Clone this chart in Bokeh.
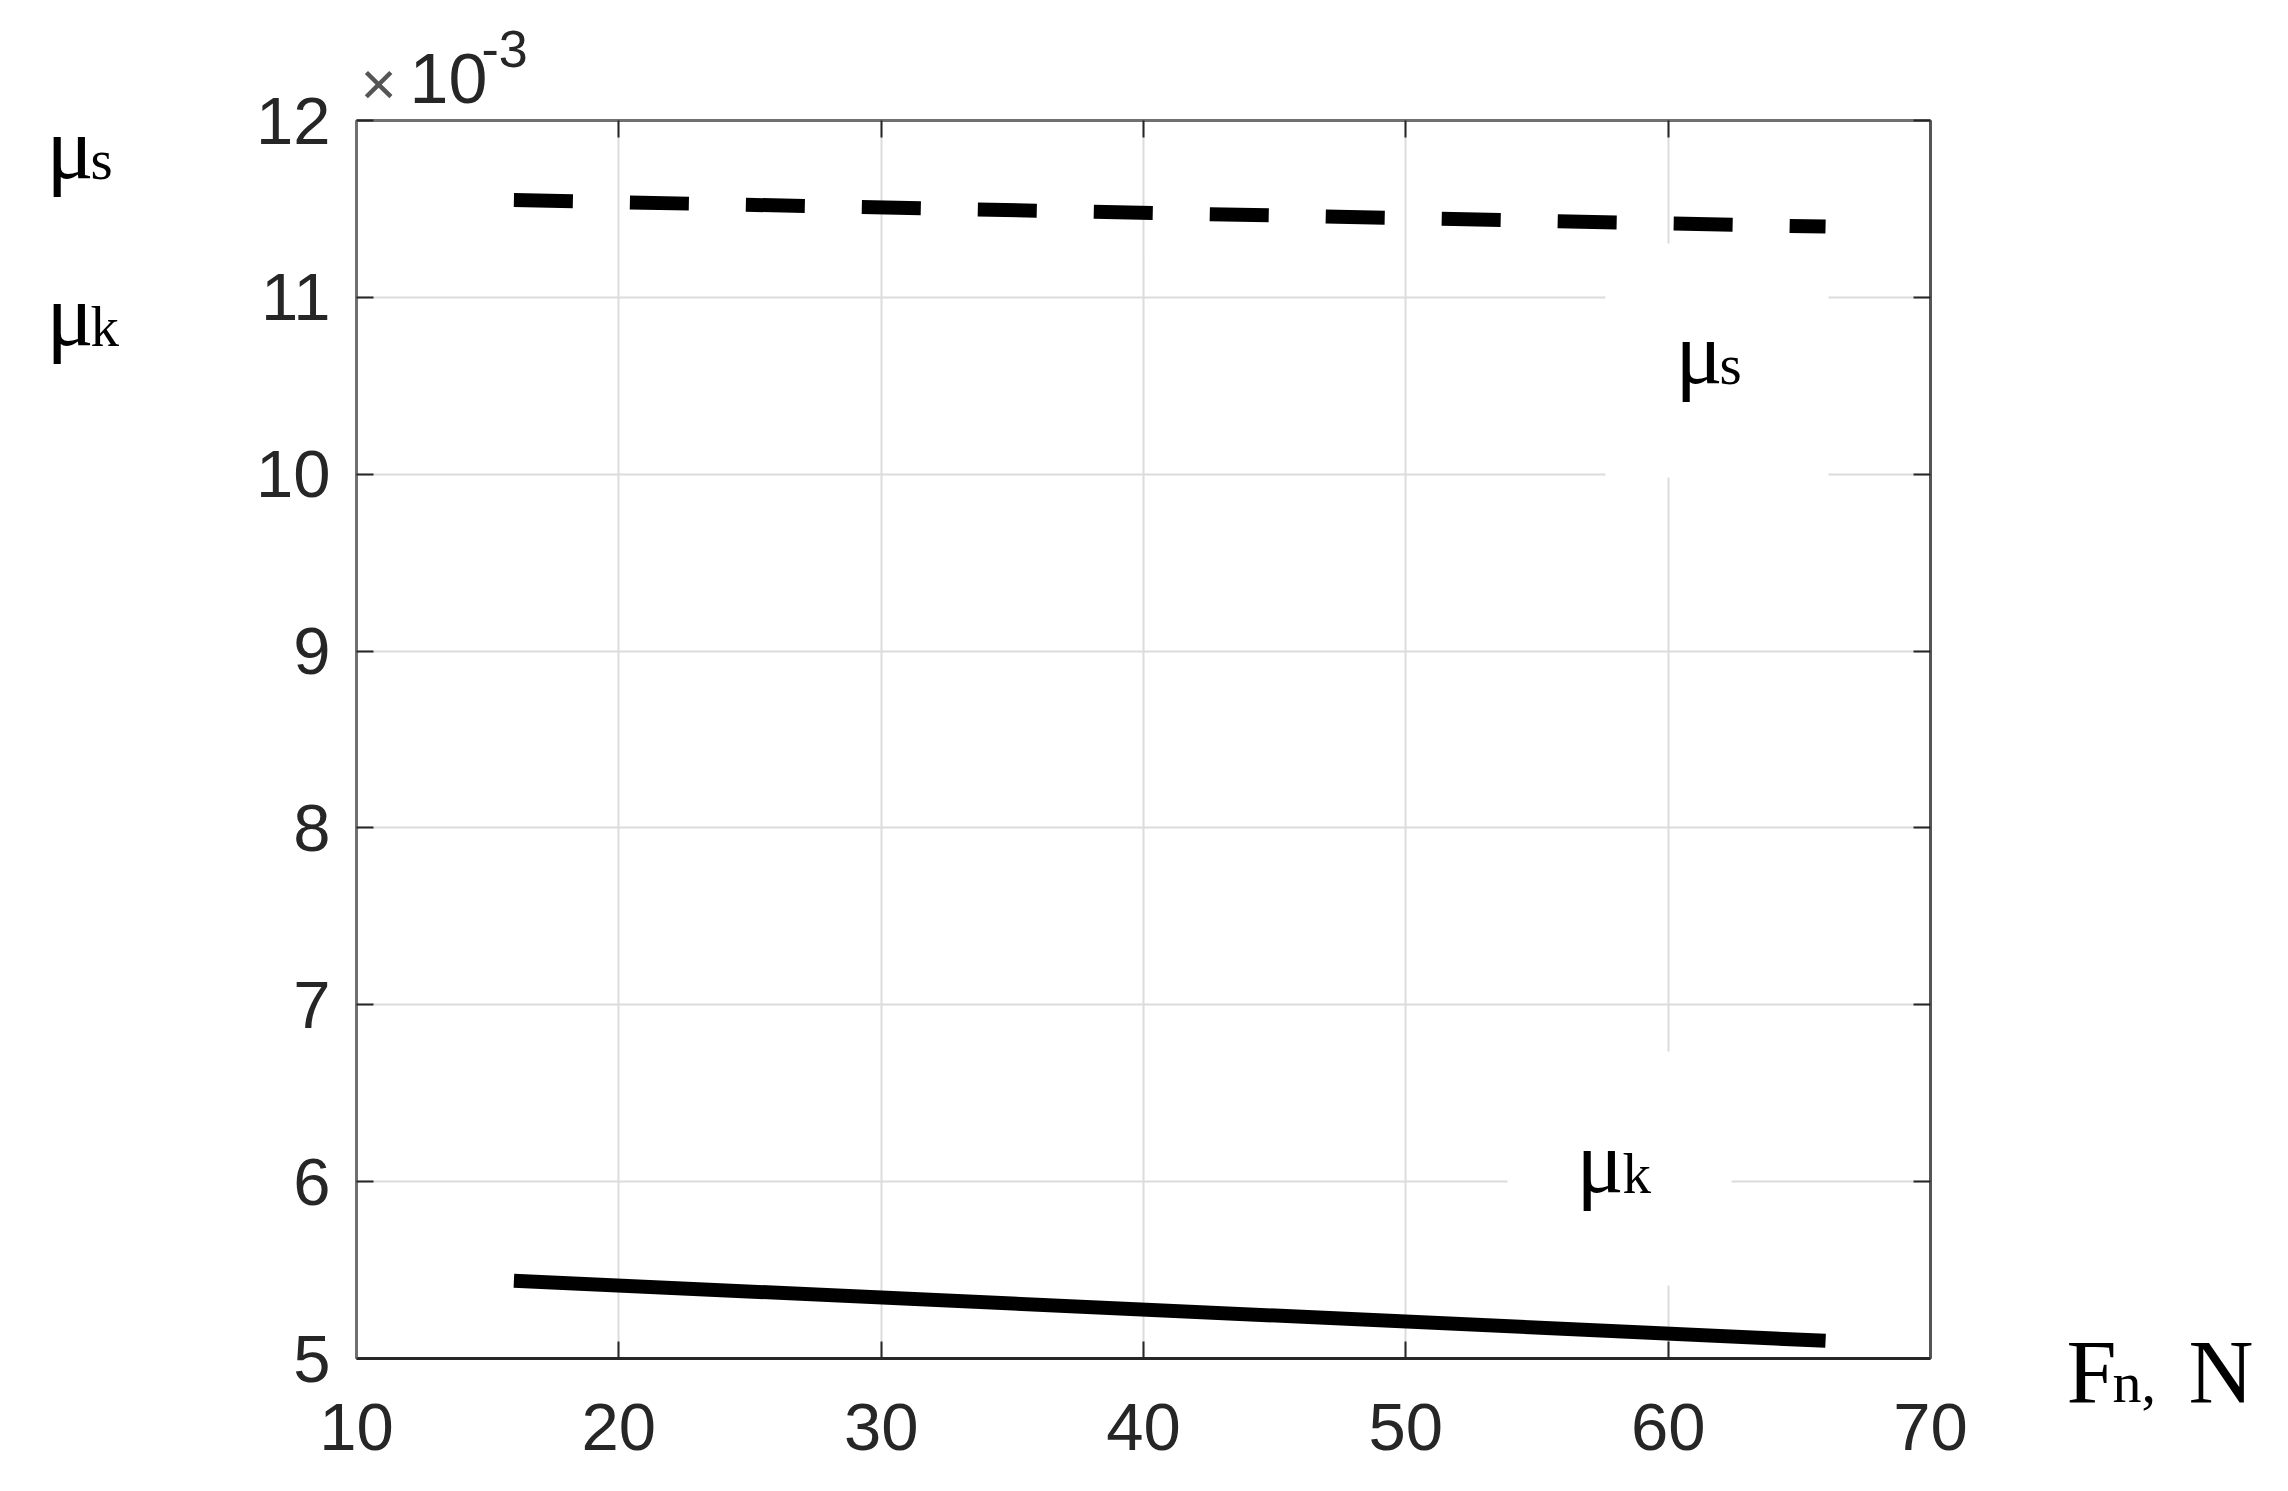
from bokeh.plotting import figure
from bokeh.models import Range1d, FixedTicker, LinearAxis, Label, BoxAnnotation
from bokeh.embed import file_html
from bokeh.resources import INLINE

# ---- data (y in units of 1e-3) ----
fn_N = [16, 66]
mu_s_e3 = [11.55, 11.40]
mu_k_e3 = [5.44, 5.10]
x_ticks = [10, 20, 30, 40, 50, 60, 70]
y_ticks = [5, 6, 7, 8, 9, 10, 11, 12]

TICK_FONT = "Liberation Sans"
SERIF = "Liberation Serif"
DARK = "#262626"
W, H = 2286, 1489

# layout: where the axes box sits on the page (pixels)
FL, FR, FT, FB = 356, 1930, 120, 1358
XMIN, XMAX, YMIN, YMAX = x_ticks[0], x_ticks[-1], y_ticks[0], y_ticks[-1]
KX = (FR - FL) / (XMAX - XMIN)
KY = (FB - FT) / (YMAX - YMIN)
def X(px):
    return XMIN + (px - FL) / KX
def Y(py):
    return YMAX - (py - FT) / KY

p = figure(width=W, height=H,
           x_range=Range1d(X(0), X(W)), y_range=Range1d(Y(H), Y(0)),
           output_backend="svg", toolbar_location=None, min_border=0)
p.title.visible = False
p.background_fill_color = "white"
p.border_fill_color = "white"
p.outline_line_color = None

def style_axis(ax, line_color, show_labels, standoff):
    ax.axis_line_color = line_color
    ax.axis_line_width = 3
    ax.major_tick_in = 17
    ax.major_tick_out = 0
    ax.major_tick_line_color = DARK
    ax.major_tick_line_width = 2
    ax.minor_tick_line_color = None
    ax.major_label_standoff = standoff
    if show_labels:
        ax.major_label_text_font = TICK_FONT
        ax.major_label_text_font_size = "67px"
        ax.major_label_text_color = DARK
    else:
        ax.major_label_text_font_size = "1px"
        ax.major_label_text_color = None

xb = p.xaxis[0]
xb.ticker = FixedTicker(ticks=x_ticks)
xb.fixed_location = YMIN
xb.bounds = (XMIN, XMAX)
style_axis(xb, DARK, True, 45)
yl = p.yaxis[0]
yl.ticker = FixedTicker(ticks=y_ticks)
yl.fixed_location = XMIN
yl.bounds = (YMIN, YMAX)
style_axis(yl, "#707070", True, 26)

xt = LinearAxis(ticker=FixedTicker(ticks=x_ticks), fixed_location=YMAX, bounds=(XMIN, XMAX))
style_axis(xt, "#707070", False, 0)
p.add_layout(xt, "above")
yr = LinearAxis(ticker=FixedTicker(ticks=y_ticks), fixed_location=XMAX, bounds=(YMIN, YMAX))
style_axis(yr, "#555555", False, 0)
p.add_layout(yr, "right")

p.xgrid.ticker = FixedTicker(ticks=x_ticks)
p.ygrid.ticker = FixedTicker(ticks=y_ticks)
p.xgrid[0].bounds = (XMIN, XMAX)
p.xgrid[0].cross_bounds = (YMIN, YMAX)
p.ygrid[0].bounds = (YMIN, YMAX)
p.ygrid[0].cross_bounds = (XMIN, XMAX)
for g in (p.xgrid[0], p.ygrid[0]):
    g.grid_line_color = "#dcdcdc"
    g.grid_line_width = 2

# lines
p.line(fn_N, mu_s_e3, line_color="black", line_width=14, line_dash="59 57", line_cap="butt")
p.line(fn_N, mu_k_e3, line_color="black", line_width=14, line_cap="butt")

# white boxes behind inner labels (page pixels)
def box(l, r, t, b):
    p.add_layout(BoxAnnotation(left=X(l), right=X(r), top=Y(t), bottom=Y(b),
                               fill_color="white", fill_alpha=1, line_color=None))
box(1605, 1828, 243, 477)
box(1507, 1731, 1051, 1285)

# (ascent - descent) / 2 per font, used to put the baseline where wanted
SHIFT = {SERIF: (0.891 - 0.216) / 2, TICK_FONT: (0.905 - 0.212) / 2}

def lab(px, py, text, size, font=SERIF, color="black"):
    # px, py: page pixel position of the text's left end on its baseline
    yy = py - SHIFT[font] * size
    p.add_layout(Label(x=X(px), y=Y(yy), text=text, text_font=font,
                       text_font_size=f"{size}px", text_color=color,
                       text_align="left", text_baseline="alphabetic"))

# left axis labels
lab(46, 178, "\u03bc", 88)
lab(90, 178, "s", 57)
lab(46, 345, "\u03bc", 88)
lab(90, 345, "k", 57)
# inner labels
lab(1675, 383, "\u03bc", 88)
lab(1719, 383, "s", 57)
lab(1576, 1192, "\u03bc", 88)
lab(1622, 1192, "k", 57)
# x-axis label
lab(2066, 1402, "F", 90)
lab(2112, 1402, "n,", 58)
lab(2188, 1402, "N", 90)
# exponent
lab(360, 104, "\u00d7", 62, font=TICK_FONT, color="#555555")
lab(409, 102, "10", 70, font=TICK_FONT, color=DARK)
lab(481, 67, "-3", 52, font=TICK_FONT, color=DARK)

open("out.html", "w").write(file_html(p, INLINE))
